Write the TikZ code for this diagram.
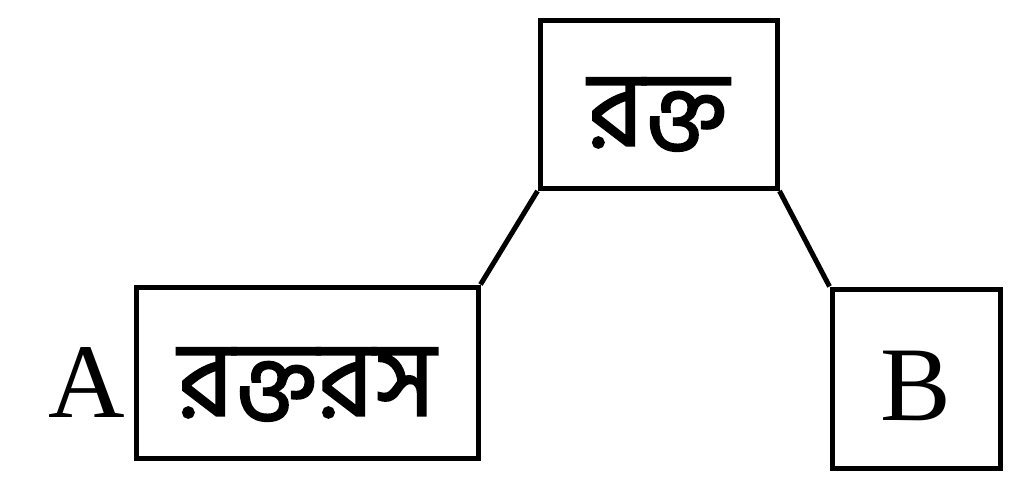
\documentclass[tikz,border=0pt]{standalone}
\usepackage{fontspec}
\setmainfont{Liberation Serif}
\newfontfamily\bngfont[Script=Bengali,FakeBold=1.5]{Hind Siliguri}
\usetikzlibrary{positioning}

\begin{document}
\begin{tikzpicture}[x=0.5pt,y=-0.5pt,
    box/.style={draw,line width=2.5pt,inner sep=0pt},
    bng/.style={font=\bngfont\fontsize{53}{58}\selectfont},
    lat/.style={font=\fontsize{53}{60}\selectfont}]
  \useasboundingbox (0,0) rectangle (1024,494);
  \node[box,bng,minimum width=118.5pt,minimum height=84pt]
    (blood) at (658.5,104.5) {\raisebox{-5pt}[\height][\depth]{রক্ত}};
  \node[box,bng,minimum width=171pt,minimum height=85.5pt]
    (plasma) at (307,372.5) {\raisebox{-6pt}[\height][\depth]{রক্তরস}};
  \node[box,lat,minimum width=84pt,minimum height=89.5pt]
    (bbox) at (916,378.5) {\raisebox{-3.5pt}[\height][\depth]{B}};
  \node[lat,left=0.5pt of plasma,yshift=-5pt] (alabel) {A};
  \draw[line width=2.5pt] (plasma.north east) -- (blood.south west);
  \draw[line width=2.5pt] (blood.south east) -- (bbox.north west);
\end{tikzpicture}
\end{document}
